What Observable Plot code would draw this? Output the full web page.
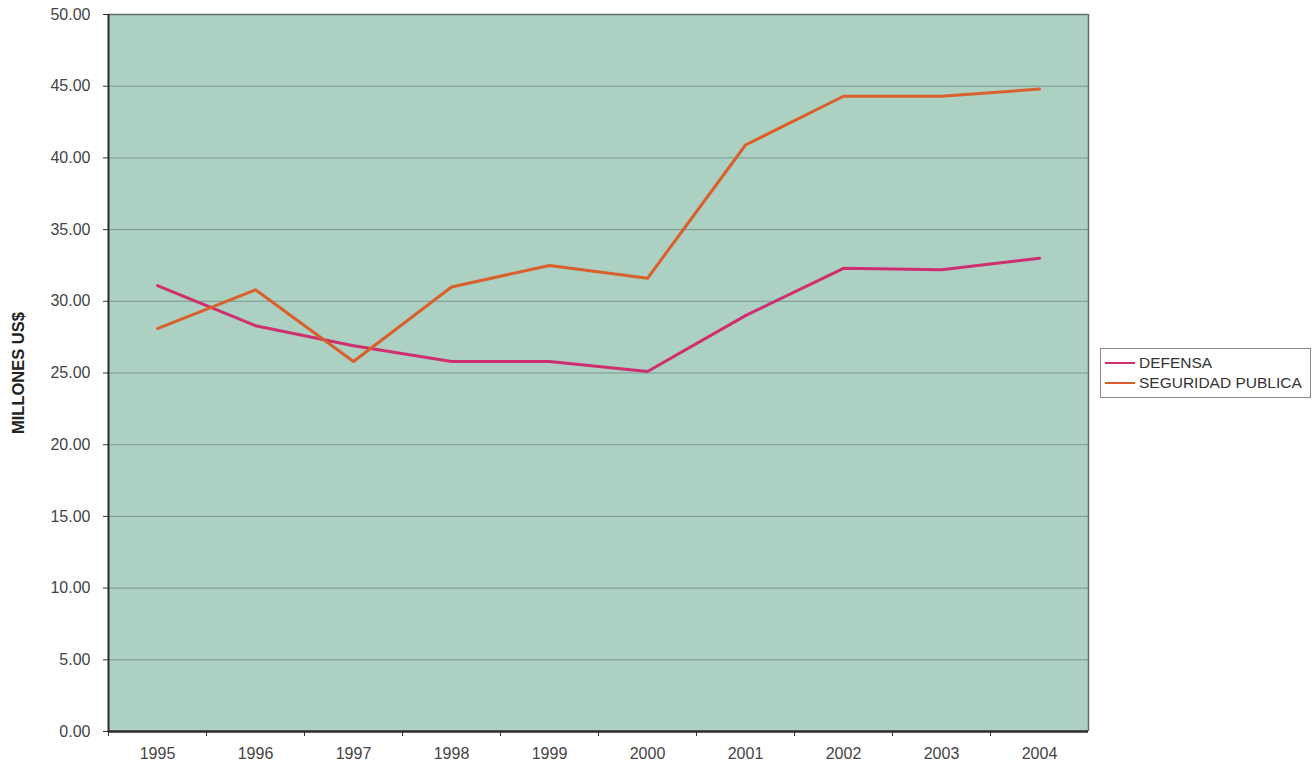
<!DOCTYPE html>
<html>
<head>
<meta charset="utf-8">
<script src="https://cdn.jsdelivr.net/npm/d3@7"></script>
<script src="https://cdn.jsdelivr.net/npm/@observablehq/plot@0.6"></script>
<style>
  html, body { margin: 0; padding: 0; background: #ffffff; }
  #wrap { position: relative; width: 1312px; height: 763px; font-family: "Liberation Sans", Arial, sans-serif; }
  #legend { position: absolute; left: 1100px; top: 348px; width: 211px; height: 50px; border: 1px solid #8a8a8a; background: #fff; box-sizing: border-box; padding: 4px 0 0 4px; font-size: 15.5px; color: #333; }
  .li { display: flex; align-items: center; height: 20px; }
  .sw { width: 30px; height: 1.5px; margin-right: 4px; }
</style>
</head>
<body>
<div id="wrap"><div id="chart"></div><div id="legend"></div></div>
<script>
const years = [1995, 1996, 1997, 1998, 1999, 2000, 2001, 2002, 2003, 2004];
const defensa = [31.1, 28.3, 26.9, 25.8, 25.8, 25.1, 29.0, 32.3, 32.2, 33.0];
const seguridad = [28.1, 30.8, 25.8, 31.0, 32.5, 31.6, 40.9, 44.3, 44.3, 44.8];
const seriesNames = ["DEFENSA", "SEGURIDAD PUBLICA"];
const seriesColors = ["#cf2f6e", "#d9602a"];
const yTicks = [0, 5, 10, 15, 20, 25, 30, 35, 40, 45, 50];

const data = [];
years.forEach((y, i) => {
  data.push({year: y, value: defensa[i], serie: seriesNames[0]});
  data.push({year: y, value: seguridad[i], serie: seriesNames[1]});
});
const boundaries = years.map(y => y - 0.5);

const chart = Plot.plot({
  width: 1312,
  height: 763,
  marginLeft: 108,
  marginRight: 224,
  marginTop: 14,
  marginBottom: 32,
  style: {fontFamily: "Liberation Sans, Arial, sans-serif", fontSize: "16px", color: "#444", background: "transparent"},
  x: {domain: [years[0] - 0.5, years[years.length - 1] + 0.5]},
  y: {domain: [0, 50]},
  color: {domain: seriesNames, range: seriesColors},
  marks: [
    Plot.frame({fill: "#acd0c2", stroke: null}),
    Plot.gridY(yTicks.filter(d => d > 0 && d < 50), {stroke: "#6f8a82", strokeOpacity: 0.8, strokeWidth: 1}),
    Plot.axisY({ticks: yTicks, tickFormat: d => d.toFixed(2), tickSize: 5, tickPadding: 13, stroke: "#333", fill: "#444", fontSize: 16,
      label: "MILLONES US$", labelAnchor: "center", labelArrow: "none", labelOffset: 96}),
    Plot.axisX({ticks: boundaries, tickFormat: () => "", tickSize: 5, stroke: "#333", label: null}),
    Plot.axisX({ticks: years, tickFormat: d => String(d), tickSize: 0, tickPadding: 16, fill: "#444", fontSize: 16, label: null}),
    Plot.line(data, {x: "year", y: "value", z: "serie", stroke: "serie", strokeWidth: 3}),
    Plot.ruleY([50], {stroke: "#6a6a6a", strokeWidth: 1.5}),
    Plot.ruleX([years[years.length - 1] + 0.5], {stroke: "#6a6a6a", strokeWidth: 1.5}),
    Plot.ruleX([years[0] - 0.5], {stroke: "#2a2a2a", strokeWidth: 2}),
    Plot.ruleY([0], {stroke: "#2a2a2a", strokeWidth: 2.5})
  ]
});
// bold axis label
chart.querySelectorAll("g[aria-label='y-axis label']").forEach(el => {
  el.setAttribute("font-weight", "bold");
  el.setAttribute("font-size", "16.5");
  el.setAttribute("fill", "#222");
});
document.getElementById("chart").appendChild(chart);

const legend = document.getElementById("legend");
seriesNames.forEach((n, i) => {
  const row = document.createElement("div");
  row.className = "li";
  const sw = document.createElement("div");
  sw.className = "sw";
  sw.style.background = seriesColors[i];
  const t = document.createElement("span");
  t.textContent = n;
  row.appendChild(sw); row.appendChild(t);
  legend.appendChild(row);
});
</script>
</body>
</html>
